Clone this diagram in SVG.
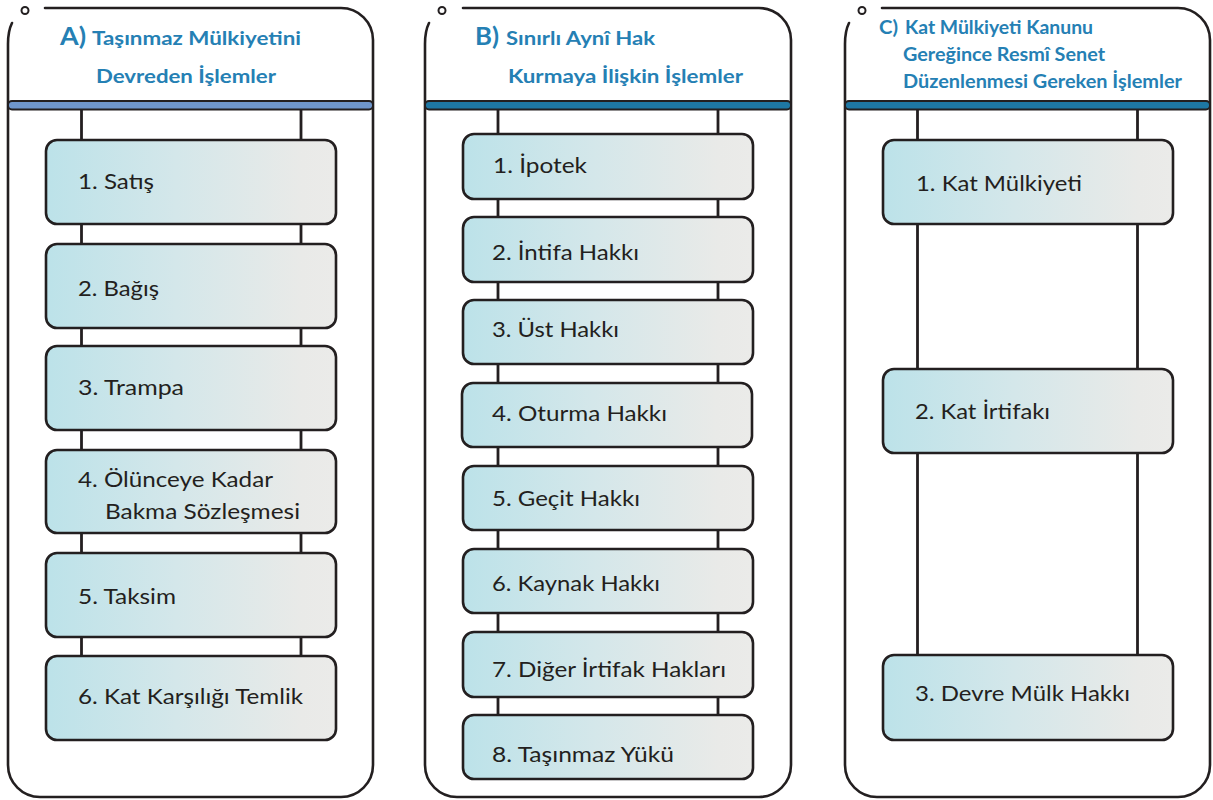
<svg xmlns="http://www.w3.org/2000/svg" width="1213" height="800" viewBox="0 0 1213 800">
<defs>
<linearGradient id="boxGrad" x1="0" y1="0" x2="1" y2="0">
<stop offset="0" stop-color="#bce2e9"/>
<stop offset="0.45" stop-color="#d4e7ea"/>
<stop offset="0.88" stop-color="#e9eae8"/>
<stop offset="1" stop-color="#ebebe9"/>
</linearGradient>
<style>
.outer{fill:none;stroke:#231f20;stroke-width:2.6;stroke-linecap:round}
.dot{fill:#fff;stroke:#231f20;stroke-width:2}
.barA{fill:#6f96cc;stroke:#231f20;stroke-width:2}
.barB{fill:#1e77a4;stroke:#231f20;stroke-width:2}
.rail{stroke:#231f20;stroke-width:2.8;fill:none}
.box{fill:url(#boxGrad);stroke:#231f20;stroke-width:2.6}
.lbl{font-family:Lato,"Open Sans","Liberation Sans",sans-serif;font-size:21px;fill:#231f20}
.ttl{font-family:Lato,"Open Sans","Liberation Sans",sans-serif;font-weight:bold;font-size:18.5px;fill:#2580b4}
.big{font-size:24px}
</style>
</defs>
<rect width="1213" height="800" fill="#fff"/>

<!-- Panel frames -->
<g id="panelA">
<path class="outer" d="M45 8 H341 A32 32 0 0 1 373 40 V765 A32 32 0 0 1 341 797 H40 A32 32 0 0 1 8 765 V44 Q8 31 12 23"/>
<circle class="dot" cx="25" cy="10.5" r="3.5"/>
<rect class="barA" x="8" y="101" width="365" height="8.5" rx="4"/>
<text class="ttl big" x="60" y="45" textLength="26" lengthAdjust="spacingAndGlyphs">A)</text>
<text class="ttl" x="92" y="45" textLength="209" lengthAdjust="spacingAndGlyphs">Taşınmaz Mülkiyetini</text>
<text class="ttl" x="96" y="83" textLength="180" lengthAdjust="spacingAndGlyphs">Devreden İşlemler</text>
</g>
<g id="panelB">
<path class="outer" d="M463 8 H759 A32 32 0 0 1 791 40 V765 A32 32 0 0 1 759 797 H457 A32 32 0 0 1 425 765 V44 Q425 31 429 23"/>
<circle class="dot" cx="442" cy="10.5" r="3.5"/>
<rect class="barB" x="425" y="101" width="366" height="8.5" rx="4"/>
<text class="ttl big" x="475" y="45" textLength="24" lengthAdjust="spacingAndGlyphs">B)</text>
<text class="ttl" x="506" y="45" textLength="149" lengthAdjust="spacingAndGlyphs">Sınırlı Aynî Hak</text>
<text class="ttl" x="508" y="83" textLength="235" lengthAdjust="spacingAndGlyphs">Kurmaya İlişkin İşlemler</text>
</g>
<g id="panelC">
<path class="outer" d="M882 8 H1178 A32 32 0 0 1 1210 40 V765 A32 32 0 0 1 1178 797 H877 A32 32 0 0 1 845 765 V44 Q845 31 849 23"/>
<circle class="dot" cx="862" cy="10.5" r="3.5"/>
<rect class="barB" x="845" y="101" width="365" height="8.5" rx="4"/>
<text class="ttl" x="879" y="34" font-size="20" textLength="19" lengthAdjust="spacingAndGlyphs">C)</text>
<text class="ttl" x="905" y="34" textLength="188" lengthAdjust="spacingAndGlyphs">Kat Mülkiyeti Kanunu</text>
<text class="ttl" x="903" y="61" textLength="202" lengthAdjust="spacingAndGlyphs">Gereğince Resmî Senet</text>
<text class="ttl" x="903" y="88" textLength="279" lengthAdjust="spacingAndGlyphs">Düzenlenmesi Gereken İşlemler</text>
</g>

<!-- Connectors (ladder rails) -->
<g id="connectors">
<line class="rail" x1="81.5" y1="110" x2="81.5" y2="657"/>
<line class="rail" x1="301" y1="110" x2="301" y2="657"/>
<line class="rail" x1="498" y1="110" x2="498" y2="716"/>
<line class="rail" x1="718" y1="110" x2="718" y2="716"/>
<line class="rail" x1="917.5" y1="110" x2="917.5" y2="656"/>
<line class="rail" x1="1137.5" y1="110" x2="1137.5" y2="656"/>
</g>

<!-- Panel A nodes -->
<g id="a1"><rect class="box" x="46" y="140" width="290" height="84" rx="11"/><text class="lbl" x="78" y="189" textLength="76" lengthAdjust="spacingAndGlyphs">1. Satış</text></g>
<g id="a2"><rect class="box" x="46" y="244" width="290" height="84" rx="11"/><text class="lbl" x="78" y="296" textLength="81" lengthAdjust="spacingAndGlyphs">2. Bağış</text></g>
<g id="a3"><rect class="box" x="46" y="346" width="290" height="84" rx="11"/><text class="lbl" x="78" y="395" textLength="106" lengthAdjust="spacingAndGlyphs">3. Trampa</text></g>
<g id="a4"><rect class="box" x="46" y="450" width="290" height="83" rx="11"/><text class="lbl" x="78" y="487" textLength="195" lengthAdjust="spacingAndGlyphs">4. Ölünceye Kadar</text><text class="lbl" x="105" y="519" textLength="195" lengthAdjust="spacingAndGlyphs">Bakma Sözleşmesi</text></g>
<g id="a5"><rect class="box" x="46" y="553" width="290" height="84" rx="11"/><text class="lbl" x="78" y="604" textLength="98" lengthAdjust="spacingAndGlyphs">5. Taksim</text></g>
<g id="a6"><rect class="box" x="46" y="656" width="290" height="84" rx="11"/><text class="lbl" x="78" y="704" textLength="225" lengthAdjust="spacingAndGlyphs">6. Kat Karşılığı Temlik</text></g>

<!-- Panel B nodes -->
<g id="b1"><rect class="box" x="463" y="134" width="290" height="65" rx="11"/><text class="lbl" x="493" y="173" textLength="94" lengthAdjust="spacingAndGlyphs">1. İpotek</text></g>
<g id="b2"><rect class="box" x="463" y="217" width="290" height="65" rx="11"/><text class="lbl" x="492" y="260" textLength="147" lengthAdjust="spacingAndGlyphs">2. İntifa Hakkı</text></g>
<g id="b3"><rect class="box" x="463" y="300" width="290" height="64" rx="11"/><text class="lbl" x="492" y="337" textLength="127" lengthAdjust="spacingAndGlyphs">3. Üst Hakkı</text></g>
<g id="b4"><rect class="box" x="462" y="383" width="290" height="64" rx="11"/><text class="lbl" x="492" y="421" textLength="175" lengthAdjust="spacingAndGlyphs">4. Oturma Hakkı</text></g>
<g id="b5"><rect class="box" x="463" y="466" width="290" height="64" rx="11"/><text class="lbl" x="492" y="506" textLength="148" lengthAdjust="spacingAndGlyphs">5. Geçit Hakkı</text></g>
<g id="b6"><rect class="box" x="463" y="549" width="290" height="64" rx="11"/><text class="lbl" x="492" y="591" textLength="168" lengthAdjust="spacingAndGlyphs">6. Kaynak Hakkı</text></g>
<g id="b7"><rect class="box" x="463" y="632" width="290" height="65" rx="11"/><text class="lbl" x="492" y="677" textLength="234" lengthAdjust="spacingAndGlyphs">7. Diğer İrtifak Hakları</text></g>
<g id="b8"><rect class="box" x="463" y="715" width="290" height="64" rx="11"/><text class="lbl" x="492" y="762" textLength="182" lengthAdjust="spacingAndGlyphs">8. Taşınmaz Yükü</text></g>

<!-- Panel C nodes -->
<g id="c1"><rect class="box" x="883" y="140" width="290" height="84" rx="11"/><text class="lbl" x="916" y="191" textLength="166" lengthAdjust="spacingAndGlyphs">1. Kat Mülkiyeti</text></g>
<g id="c2"><rect class="box" x="883" y="369" width="290" height="84" rx="11"/><text class="lbl" x="915" y="419" textLength="135" lengthAdjust="spacingAndGlyphs">2. Kat İrtifakı</text></g>
<g id="c3"><rect class="box" x="883" y="655" width="290" height="85" rx="11"/><text class="lbl" x="915" y="701" textLength="215" lengthAdjust="spacingAndGlyphs">3. Devre Mülk Hakkı</text></g>
</svg>
